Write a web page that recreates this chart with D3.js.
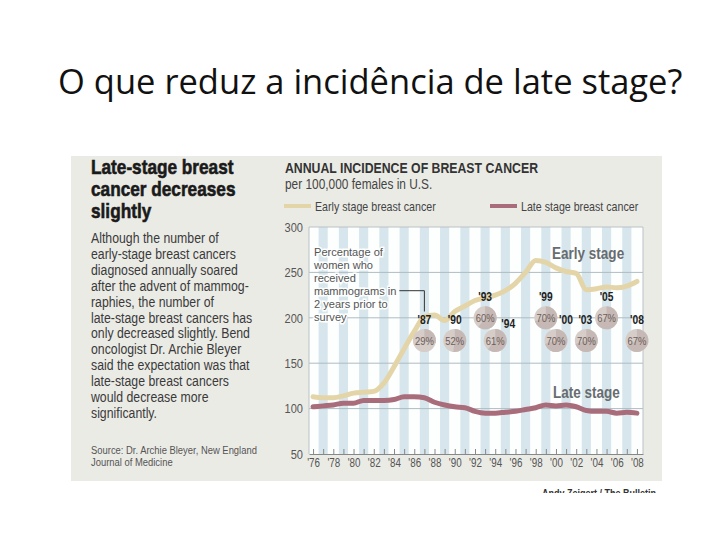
<!DOCTYPE html>
<html>
<head>
<meta charset="utf-8">
<script src="https://cdn.jsdelivr.net/npm/d3@7"></script>
<style>
  body { margin: 0; background: #fff; }
  svg { display: block; }
  .narrow { font-family: "Liberation Sans", Arial, sans-serif; }
</style>
</head>
<body>
<script>
// chart data
let years = [1976, 1977, 1978, 1979, 1980, 1981, 1982, 1983, 1984, 1985, 1986,
  1987, 1988, 1989, 1990, 1991, 1992, 1993, 1994, 1995, 1996, 1997, 1998,
  1999, 2000, 2001, 2002, 2003, 2004, 2005, 2006, 2007, 2008];
let earlyStage = [113, 112, 112, 114, 117, 118, 119, 128, 146, 166, 185,
  201, 203, 197, 207, 213, 219, 222, 225, 230, 238, 250, 263,
  261, 255, 251, 249, 231, 232, 234, 233, 235, 240];
let lateStage = [102, 103, 104, 106, 106, 109, 109, 109, 110, 113, 113,
  112, 107, 104, 102, 101, 97, 95, 95, 96, 97, 99, 101,
  104, 103, 104, 102, 98, 97, 97, 95, 96, 95];
let yTicks = [50, 100, 150, 200, 250, 300];

// mammogram survey points
let surveyYears = [1987, 1990, 1993, 1994, 1999, 2000, 2003, 2005, 2008];
let surveyPct = [29, 52, 60, 61, 70, 70, 70, 67, 67];
let surveyLevel = [175, 175, 200, 175, 200, 175, 175, 200, 175];

// texts
let slideTitle = "O que reduz a incidência de late stage?";
let headline = ["Late-stage breast", "cancer decreases", "slightly"];
let bodyText = [
  "Although the number of",
  "early-stage breast cancers",
  "diagnosed annually soared",
  "after the advent of mammog-",
  "raphies, the number of",
  "late-stage breast cancers has",
  "only decreased slightly. Bend",
  "oncologist Dr. Archie Bleyer",
  "said the expectation was that",
  "late-stage breast cancers",
  "would decrease more",
  "significantly."
];
let sourceText = ["Source: Dr. Archie Bleyer, New England", "Journal of Medicine"];
let chartTitle = "ANNUAL INCIDENCE OF BREAST CANCER";
let chartSub = "per 100,000 females in U.S.";
let legendLabels = ["Early stage breast cancer", "Late stage breast cancer"];
let noteText = ["Percentage of", "women who", "received", "mammograms in", "2 years prior to", "survey"];
let credit = "Andy Zeigert / The Bulletin";

let earlyColor = "#e4d5a9",
    lateColor = "#a96c7b";

// newspaper condensed type: Liberation Sans squeezed horizontally
let squeeze = 0.82;
function place(x, y, s) {
  return "translate(" + x + "," + y + ") scale(" + (s || squeeze) + ",1)";
}

let svg = d3.select("body").append("svg")
  .attr("width", 720)
  .attr("height", 540);

svg.append("rect").attr("width", 720).attr("height", 540).attr("fill", "#fff");

// slide title
svg.append("text")
  .attr("x", 58).attr("y", 94)
  .style("font-family", "'Open Sans', 'Noto Sans', sans-serif")
  .style("font-size", "34.5px")
  .attr("fill", "#111")
  .text(slideTitle);

// the embedded graphic, clipped at its lower edge
svg.append("clipPath").attr("id", "pic")
  .append("rect").attr("x", 0).attr("y", 0).attr("width", 720).attr("height", 493);

let pic = svg.append("g").attr("clip-path", "url(#pic)").attr("class", "narrow");

pic.append("rect")
  .attr("x", 71).attr("y", 156)
  .attr("width", 591).attr("height", 325)
  .attr("fill", "#ebebe6");

pic.append("text")
  .attr("transform", place(542, 497))
  .style("font-size", "11px")
  .style("font-weight", "bold")
  .attr("fill", "#333")
  .text(credit);

// left column
pic.selectAll(".headline").data(headline).enter().append("text")
  .attr("transform", (d, i) => place(91, 174 + i * 22))
  .style("font-size", "21px")
  .style("font-weight", "bold")
  .attr("fill", "#1a1a1a")
  .attr("stroke", "#1a1a1a")
  .attr("stroke-width", 0.6)
  .text(d => d);

pic.selectAll(".body").data(bodyText).enter().append("text")
  .attr("transform", (d, i) => place(91, 243 + i * 15.9))
  .style("font-size", "15px")
  .attr("fill", "#3a3a3a")
  .text(d => d);

pic.selectAll(".source").data(sourceText).enter().append("text")
  .attr("transform", (d, i) => place(91, 454 + i * 12))
  .style("font-size", "11.5px")
  .attr("fill", "#555")
  .text(d => d);

// chart header and legend
pic.append("text")
  .attr("transform", place(285, 173))
  .style("font-size", "15px")
  .style("font-weight", "bold")
  .attr("fill", "#333")
  .text(chartTitle);

pic.append("text")
  .attr("transform", place(285, 189))
  .style("font-size", "14.5px")
  .attr("fill", "#444")
  .text(chartSub);

let legend = pic.selectAll(".legend").data(legendLabels).enter().append("g")
  .attr("transform", (d, i) => "translate(" + (i === 0 ? 284 : 490) + ",206)");
legend.append("line")
  .attr("x1", 0).attr("x2", 27)
  .attr("stroke", (d, i) => i === 0 ? earlyColor : lateColor)
  .attr("stroke-width", 4);
legend.append("text")
  .attr("transform", place(31, 4.5))
  .style("font-size", "13px")
  .attr("fill", "#444")
  .text(d => d);

// scales
let x = d3.scaleLinear().domain([1975.6, 2008.6]).range([309, 643]);
let y = d3.scaleLinear().domain([50, 300]).range([454, 227]);

// plot background with yearly stripes
pic.append("rect")
  .attr("x", x.range()[0]).attr("y", y(300))
  .attr("width", x.range()[1] - x.range()[0])
  .attr("height", y(50) - y(300))
  .attr("fill", "#fdfefe");

pic.selectAll(".stripe").data(years.filter(d => d % 2 === 1)).enter().append("rect")
  .attr("x", d => x(d - 0.45))
  .attr("width", d => x(d + 0.45) - x(d - 0.45))
  .attr("y", y(300))
  .attr("height", y(50) - y(300))
  .attr("fill", "#d6e6ec");

// horizontal grid
pic.selectAll(".grid").data(yTicks.filter(d => d > 50 && d < 300)).enter().append("line")
  .attr("x1", x.range()[0]).attr("x2", x.range()[1])
  .attr("y1", d => y(d)).attr("y2", d => y(d))
  .attr("stroke", "#aebcc2")
  .attr("stroke-width", 1);

// frame top / right / left
pic.append("path")
  .attr("d", "M" + x.range()[0] + "," + y(50) + "V" + y(300) + "H" + x.range()[1] + "V" + y(50))
  .attr("fill", "none")
  .attr("stroke", "#b9c2c6");

// axes
let xAxis = pic.append("g")
  .attr("transform", "translate(0," + y(50) + ")")
  .call(d3.axisBottom(x)
    .tickValues(years)
    .tickSize(-5)
    .tickSizeOuter(0)
    .tickPadding(4)
    .tickFormat(d => d % 2 === 0 ? "'" + String(d).slice(2) : ""));
xAxis.attr("font-family", null).attr("font-size", null);
xAxis.select(".domain").attr("stroke", "#888");
xAxis.selectAll(".tick line").attr("stroke", "#888");
xAxis.selectAll("text")
  .attr("transform", "scale(" + squeeze + ",1)")
  .style("font-size", "12px")
  .attr("fill", "#555");

let yAxis = pic.append("g")
  .attr("transform", "translate(" + x.range()[0] + ",0)")
  .call(d3.axisLeft(y).tickValues(yTicks).tickSize(0).tickPadding(6));
yAxis.attr("font-family", null).attr("font-size", null);
yAxis.select(".domain").remove();
yAxis.selectAll("text")
  .attr("x", -6 / squeeze)
  .attr("transform", "scale(" + squeeze + ",1)")
  .style("font-size", "13.5px")
  .attr("fill", "#555");

// lines
let line = d3.line()
  .x((d, i) => x(years[i]))
  .y(d => y(d))
  .curve(d3.curveMonotoneX);

pic.append("path")
  .datum(lateStage)
  .attr("d", line)
  .attr("fill", "none")
  .attr("stroke", lateColor)
  .attr("stroke-width", 5)
  .attr("stroke-linecap", "round");

pic.append("path")
  .datum(earlyStage)
  .attr("d", line)
  .attr("fill", "none")
  .attr("stroke", earlyColor)
  .attr("stroke-width", 5)
  .attr("stroke-linecap", "round");

// series labels in the plot
pic.append("text")
  .attr("transform", place(552, y(265)))
  .style("font-size", "16.5px").style("font-weight", "bold")
  .attr("fill", "#686c70")
  .text("Early stage");
pic.append("text")
  .attr("transform", place(553, y(112)))
  .style("font-size", "16.5px").style("font-weight", "bold")
  .attr("fill", "#686c70")
  .text("Late stage");

// note about mammograms
let noteSqueeze = 0.98;
let note = pic.append("g");
note.selectAll("text").data(noteText).enter().append("text")
  .attr("transform", (d, i) => place(314, 256 + i * 12.9, noteSqueeze))
  .style("font-size", "11.3px")
  .attr("fill", "#555")
  .attr("stroke", "#fdfefe")
  .attr("stroke-width", 3)
  .attr("paint-order", "stroke")
  .text(d => d);

// survey circles
let labelShift = {1994: [13, 4], 2000: [10, 0], 2003: [-1, 0]};
let arc = d3.arc().innerRadius(0).outerRadius(11.5);

let survey = pic.selectAll(".survey").data(surveyYears).enter().append("g")
  .attr("transform", (d, i) => "translate(" + x(d) + "," + y(surveyLevel[i]) + ")");

survey.append("circle")
  .attr("r", 11.5)
  .attr("fill", "#d6ccc8");
survey.append("path")
  .attr("d", (d, i) => arc({startAngle: 0, endAngle: surveyPct[i] / 100 * 2 * Math.PI}))
  .attr("fill", "#c6b9b5");
survey.append("text")
  .attr("text-anchor", "middle")
  .attr("dy", "0.36em")
  .attr("transform", "scale(" + squeeze + ",1)")
  .style("font-size", "11.5px")
  .attr("fill", "#6c5e5a")
  .text((d, i) => surveyPct[i] + "%");
survey.append("text")
  .attr("text-anchor", "middle")
  .attr("transform", d => place(labelShift[d] ? labelShift[d][0] : 0, -17 + (labelShift[d] ? labelShift[d][1] : 0)))
  .style("font-size", "12.5px")
  .style("font-weight", "bold")
  .attr("fill", "#222")
  .text(d => "'" + String(d).slice(2));

// leader from the note to the '87 label
let noteEnd = note.selectAll("text").nodes()[3].getBBox();
let leadX = 314 + (noteEnd.x + noteEnd.width) * noteSqueeze + 3,
    leadY = 256 + 3 * 12.9 - 4;
pic.append("path")
  .attr("d", "M" + leadX + "," + leadY +
    "H" + x(surveyYears[0]) + "V" + (y(surveyLevel[0]) - 29))
  .attr("fill", "none")
  .attr("stroke", "#333")
  .attr("stroke-width", 1);
</script>
</body>
</html>
